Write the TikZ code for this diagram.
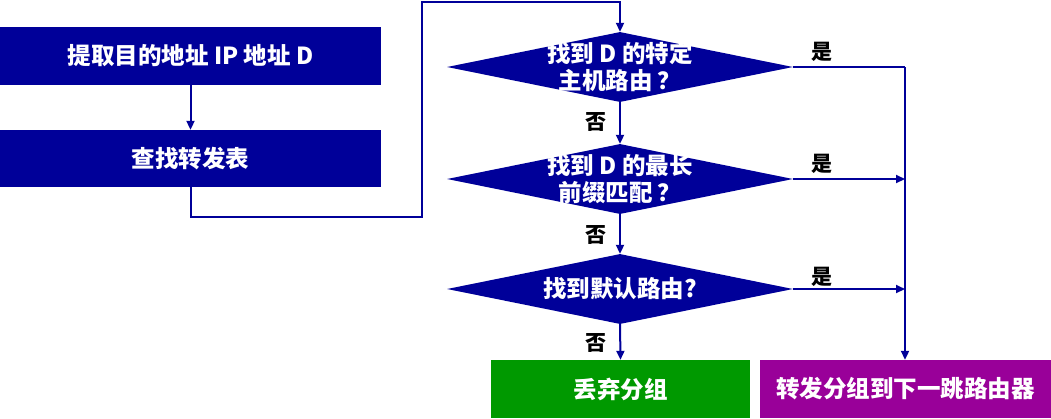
\documentclass[tikz,border=0pt]{standalone}
\usepackage{fontspec}
\newfontfamily\cjk{Noto Sans CJK SC}
\usetikzlibrary{shapes.geometric,arrows.meta}
\definecolor{navy}{RGB}{0,0,153}
\definecolor{dgreen}{RGB}{0,153,0}
\definecolor{purp}{RGB}{153,0,153}
\tikzset{
  boxnode/.style={rectangle,fill=navy,draw=none,text=white,font=\cjk\bfseries\fontsize{23.5}{27}\selectfont,inner sep=0pt},
  dia/.style={diamond,aspect=5,fill=navy,draw=none,minimum width=346pt,minimum height=70pt,inner sep=0pt},
  diatext/.style={text=white,font=\cjk\bfseries\fontsize{23.5}{27}\selectfont,align=center,inner sep=0pt},
  lbl/.style={text=black,font=\cjk\bfseries\fontsize{21}{24}\selectfont,inner sep=0pt},
  conn/.style={draw=navy,line width=2pt},
  arr/.style={conn,-{Triangle[width=8pt,length=9pt]}}
}
\begin{document}
\begin{tikzpicture}[x=1pt,y=-1pt]
\useasboundingbox (0,0) rectangle (1051,418);
\node[boxnode,minimum width=381pt,minimum height=58pt] (b1) at (190.5,56) {提取目的地址 IP 地址 D};
\node[boxnode,minimum width=381pt,minimum height=57pt] (b2) at (190.5,158.5) {查找转发表};
\node[dia] (d1) at (620,67) {};
\node[dia] (d2) at (620,179) {};
\node[dia] (d3) at (620,289) {};
\node[diatext] (t1) at (d1.center) {找到 D 的特定\\主机路由 ？};
\node[diatext] (t2) at (d2.center) {找到 D 的最长\\前缀匹配 ？};
\node[diatext] (t3) at (d3.center) {找到默认路由?};
\node[boxnode,fill=dgreen,minimum width=259pt,minimum height=58pt] (g) at (620.5,389) {丢弃分组};
\node[boxnode,fill=purp,minimum width=291pt,minimum height=58pt] (p) at (905.5,389) {转发分组到下一跳路由器};
\coordinate (c1) at (422,217);
\coordinate (c2) at (422,2);
\coordinate (r1) at (905,67);
\draw[arr] (b1.south) -- (b2.north);
\draw[arr] (b2.south) |- (c1) -- (c2) -| (d1.north);
\draw[arr] (d1.south) -- (d2.north);
\draw[arr] (d2.south) -- (d3.north);
\draw[arr] (d3.south) -- (g.north);
\draw[conn] (d1.east) -- (r1);
\draw[arr] (r1) -- (r1 |- p.north);
\draw[arr] (d2.east) -- (d2.east -| r1);
\draw[arr] (d3.east) -- (d3.east -| r1);
\node[lbl] (y1) at (822,52) {是};
\node[lbl] (y2) at (822,164) {是};
\node[lbl] (y3) at (822,277) {是};
\node[lbl] (n1) at (596,122) {否};
\node[lbl] (n2) at (596,235) {否};
\node[lbl] (n3) at (596,343) {否};
\end{tikzpicture}
\end{document}
